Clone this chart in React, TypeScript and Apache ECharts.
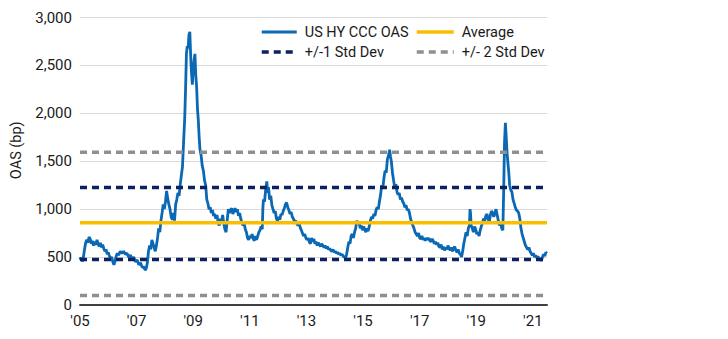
import React, { useEffect, useRef } from "react";
import * as echarts from "echarts";

// Decimal years and US HY CCC OAS (bp)
const years: number[] = [
  2005.00, 2005.03, 2005.06, 2005.09, 2005.12, 2005.16, 2005.20, 2005.24, 2005.28, 2005.32,
  2005.36, 2005.40, 2005.44, 2005.48, 2005.52, 2005.56, 2005.60, 2005.64, 2005.68, 2005.72,
  2005.76, 2005.80, 2005.84, 2005.88, 2005.92, 2005.96, 2006.00, 2006.04, 2006.08, 2006.12,
  2006.16, 2006.20, 2006.24, 2006.28, 2006.32, 2006.36, 2006.42, 2006.48, 2006.54, 2006.60,
  2006.66, 2006.72, 2006.78, 2006.84, 2006.90, 2006.96, 2007.02, 2007.08, 2007.14, 2007.20,
  2007.25, 2007.30, 2007.34, 2007.38, 2007.42, 2007.46, 2007.50, 2007.54, 2007.58, 2007.62,
  2007.66, 2007.70, 2007.74, 2007.78, 2007.82, 2007.86, 2007.90, 2007.94, 2007.98, 2008.02,
  2008.06, 2008.10, 2008.14, 2008.18, 2008.22, 2008.26, 2008.30, 2008.34, 2008.38, 2008.42,
  2008.46, 2008.50, 2008.54, 2008.58, 2008.62, 2008.66, 2008.70, 2008.73, 2008.76, 2008.79,
  2008.82, 2008.85, 2008.88, 2008.91, 2008.94, 2008.97, 2009.00, 2009.03, 2009.06, 2009.09,
  2009.12, 2009.15, 2009.18, 2009.21, 2009.24, 2009.28, 2009.32, 2009.36, 2009.40, 2009.44,
  2009.48, 2009.52, 2009.56, 2009.60, 2009.64, 2009.68, 2009.72, 2009.76, 2009.80, 2009.84,
  2009.88, 2009.92, 2009.96, 2010.00, 2010.04, 2010.08, 2010.12, 2010.16, 2010.20, 2010.24,
  2010.28, 2010.32, 2010.36, 2010.40, 2010.44, 2010.48, 2010.52, 2010.56, 2010.60, 2010.64,
  2010.68, 2010.72, 2010.76, 2010.80, 2010.84, 2010.88, 2010.92, 2010.96, 2011.00, 2011.04,
  2011.08, 2011.12, 2011.16, 2011.20, 2011.24, 2011.28, 2011.32, 2011.36, 2011.40, 2011.44,
  2011.46, 2011.48, 2011.52, 2011.56, 2011.60, 2011.63, 2011.66, 2011.70, 2011.74, 2011.78,
  2011.82, 2011.86, 2011.90, 2011.94, 2011.98, 2012.02, 2012.06, 2012.10, 2012.14, 2012.18,
  2012.22, 2012.26, 2012.30, 2012.34, 2012.38, 2012.42, 2012.46, 2012.50, 2012.54, 2012.58,
  2012.62, 2012.66, 2012.70, 2012.74, 2012.78, 2012.82, 2012.86, 2012.90, 2012.94, 2012.98,
  2013.02, 2013.06, 2013.10, 2013.14, 2013.18, 2013.22, 2013.26, 2013.30, 2013.34, 2013.38,
  2013.42, 2013.46, 2013.50, 2013.54, 2013.58, 2013.62, 2013.66, 2013.70, 2013.74, 2013.78,
  2013.82, 2013.86, 2013.90, 2013.94, 2013.98, 2014.02, 2014.06, 2014.10, 2014.14, 2014.18,
  2014.22, 2014.26, 2014.30, 2014.34, 2014.38, 2014.42, 2014.46, 2014.50, 2014.54, 2014.58,
  2014.62, 2014.66, 2014.70, 2014.74, 2014.78, 2014.82, 2014.86, 2014.90, 2014.94, 2014.98,
  2015.02, 2015.06, 2015.10, 2015.14, 2015.18, 2015.22, 2015.26, 2015.30, 2015.34, 2015.38,
  2015.42, 2015.46, 2015.50, 2015.54, 2015.58, 2015.62, 2015.66, 2015.70, 2015.74, 2015.78,
  2015.82, 2015.86, 2015.90, 2015.94, 2015.97, 2016.00, 2016.04, 2016.08, 2016.12, 2016.16,
  2016.20, 2016.24, 2016.28, 2016.32, 2016.36, 2016.40, 2016.44, 2016.48, 2016.52, 2016.56,
  2016.60, 2016.64, 2016.68, 2016.72, 2016.76, 2016.80, 2016.84, 2016.88, 2016.92, 2016.96,
  2017.00, 2017.04, 2017.08, 2017.12, 2017.16, 2017.20, 2017.24, 2017.28, 2017.32, 2017.36,
  2017.40, 2017.44, 2017.48, 2017.52, 2017.56, 2017.60, 2017.64, 2017.68, 2017.72, 2017.76,
  2017.80, 2017.84, 2017.88, 2017.92, 2017.96, 2018.00, 2018.04, 2018.08, 2018.12, 2018.16,
  2018.20, 2018.24, 2018.28, 2018.32, 2018.36, 2018.40, 2018.44, 2018.48, 2018.52, 2018.56,
  2018.60, 2018.64, 2018.68, 2018.72, 2018.76, 2018.78, 2018.80, 2018.82, 2018.86, 2018.90,
  2018.94, 2018.98, 2019.02, 2019.06, 2019.10, 2019.14, 2019.18, 2019.22, 2019.26, 2019.30,
  2019.34, 2019.38, 2019.42, 2019.46, 2019.50, 2019.54, 2019.58, 2019.62, 2019.66, 2019.70,
  2019.74, 2019.78, 2019.82, 2019.86, 2019.90, 2019.94, 2019.97, 2020.00, 2020.03, 2020.06,
  2020.09, 2020.12, 2020.15, 2020.18, 2020.22, 2020.26, 2020.30, 2020.34, 2020.38, 2020.42,
  2020.46, 2020.50, 2020.54, 2020.58, 2020.62, 2020.66, 2020.70, 2020.74, 2020.78, 2020.82,
  2020.86, 2020.90, 2020.94, 2020.98, 2021.02, 2021.06, 2021.10, 2021.14, 2021.18, 2021.22,
  2021.26, 2021.30, 2021.34, 2021.38, 2021.42, 2021.46, 2021.50,
];

const oas: number[] = [
  500, 470, 490, 455, 500, 580, 650, 680, 650, 710,
  690, 640, 670, 620, 660, 630, 680, 640, 610, 650,
  600, 630, 590, 560, 580, 530, 550, 510, 490, 500,
  450, 420, 460, 510, 540, 520, 560, 540, 560, 530,
  540, 500, 520, 480, 500, 450, 470, 420, 440, 390,
  400, 365, 380, 440, 560, 620, 580, 680, 640, 600,
  560, 620, 700, 800, 760, 880, 960, 1050, 1000, 1080,
  1190, 1110, 1050, 1000, 920, 890, 960, 880, 1050, 1100,
  1170, 1140, 1250, 1350, 1440, 1700, 1950, 2250, 2620, 2700,
  2680, 2820, 2850, 2600, 2420, 2300, 2450, 2550, 2620, 2400,
  2280, 2050, 1930, 1750, 1620, 1560, 1450, 1400, 1300, 1250,
  1100, 1060, 1000, 1020, 960, 990, 930, 950, 900, 940,
  860, 830, 900, 870, 940, 850, 790, 760, 880, 1000,
  960, 990, 1010, 950, 980, 1010, 970, 1000, 930, 960,
  900, 860, 830, 850, 790, 760, 700, 680, 720, 700,
  740, 690, 670, 720, 680, 720, 760, 780, 820, 790,
  1000, 1100, 1080, 1200, 1290, 1170, 1230, 1100, 1140, 1040,
  1000, 960, 980, 900, 880, 920, 890, 950, 940, 980,
  1010, 1050, 1070, 1020, 990, 950, 970, 920, 900, 870,
  880, 850, 830, 850, 810, 780, 750, 720, 740, 700,
  680, 700, 660, 640, 700, 660, 690, 640, 660, 620,
  650, 630, 610, 640, 620, 600, 620, 590, 610, 580,
  590, 570, 560, 580, 550, 560, 540, 550, 530, 540,
  520, 530, 510, 500, 490, 530, 600, 660, 640, 720,
  740, 700, 760, 800, 880, 850, 870, 800, 830, 780,
  820, 790, 760, 800, 770, 820, 880, 920, 900, 950,
  930, 990, 1020, 1000, 1080, 1150, 1250, 1220, 1330, 1400,
  1380, 1520, 1560, 1620, 1550, 1500, 1380, 1300, 1230, 1260,
  1180, 1150, 1170, 1100, 1120, 1080, 1060, 1020, 1040, 990,
  1000, 960, 900, 860, 830, 800, 760, 740, 720, 750,
  700, 690, 720, 680, 700, 670, 700, 680, 700, 670,
  660, 690, 670, 640, 660, 630, 650, 610, 600, 630,
  580, 610, 570, 600, 580, 620, 590, 570, 600, 560,
  590, 610, 570, 550, 580, 540, 530, 500, 560, 640,
  700, 760, 720, 800, 830, 1000, 950, 830, 800, 760,
  820, 790, 740, 760, 720, 780, 820, 860, 900, 880,
  930, 950, 900, 860, 940, 980, 960, 920, 960, 1000,
  940, 880, 830, 860, 800, 780, 1200, 1700, 1900, 1750,
  1580, 1480, 1380, 1250, 1200, 1180, 1100, 1060, 1020, 990,
  980, 960, 900, 800, 740, 700, 660, 620, 600, 580,
  600, 560, 540, 520, 540, 500, 520, 490, 510, 470,
  490, 460, 500, 530, 510, 550, 540,
];

// Reference levels (bp)
const averageLevel = 858;
const stdDev1Levels = [1225, 475];
const stdDev2Levels = [1595, 100];

const startYear = 2005;
const endYear = 2021.5;
const yTicks = [0, 500, 1000, 1500, 2000, 2500, 3000];

const FONT = 'Roboto, "Noto Sans", sans-serif';
const TEXT = "#1a1a1a";

export default function App() {
  const ref = useRef<HTMLDivElement>(null);

  useEffect(() => {
    if (!ref.current) return;
    const chart = echarts.init(ref.current, undefined, { renderer: "svg" });
    const span = endYear - startYear;
    const flat = (v: number) => [
      [0, v],
      [span, v],
    ];
    const refLine = (name: string, v: number, color: string, width: number, dash: any) => ({
      name,
      type: "line",
      data: flat(v),
      symbol: "none",
      silent: true,
      lineStyle: { color, width, type: dash, cap: "butt" },
      itemStyle: { color },
      z: 3,
    });
    const legendBase = {
      orient: "vertical",
      top: 22,
      padding: 0,
      itemWidth: 35,
      itemHeight: 14,
      itemGap: 0,
      itemStyle: { opacity: 0, borderWidth: 0 },
      lineStyle: { width: 3.5 },
      textStyle: { fontFamily: FONT, fontSize: 14.5, color: TEXT, lineHeight: 20, padding: [0, 0, 0, 3] },
    };

    chart.setOption({
      animation: false,
      textStyle: { fontFamily: FONT },
      grid: { left: 80, right: 181, top: 17.5, bottom: 34, containLabel: false },
      legend: [
        {
          ...legendBase,
          left: 260,
          data: [{ name: "US HY CCC OAS", lineStyle: { width: 3 } }, "+/-1 Std Dev"],
        },
        { ...legendBase, left: 415, itemWidth: 37, data: ["Average", "+/- 2 Std Dev"] },
      ],
      xAxis: {
        type: "value",
        min: 0,
        max: span,
        interval: 2,
        axisLine: { show: true, lineStyle: { color: "#404040", width: 2 } },
        axisTick: { show: false },
        splitLine: { show: false },
        axisLabel: {
          fontFamily: FONT,
          fontSize: 15,
          color: TEXT,
          margin: 8,
          showMaxLabel: false,
          formatter: (v: number) => {
            if (Math.abs(v - Math.round(v)) > 1e-6 || Math.round(v) % 2 !== 0) return "";
            const yy = (startYear + Math.round(v)) % 100;
            return "'" + String(yy).padStart(2, "0");
          },
        },
      },
      yAxis: {
        type: "value",
        min: yTicks[0],
        max: yTicks[yTicks.length - 1],
        interval: 500,
        name: "OAS (bp)",
        nameLocation: "middle",
        nameGap: 53,
        nameTextStyle: { fontFamily: FONT, fontSize: 14.5, color: TEXT, padding: [0, 0, 0, 22] },
        axisLine: { show: false },
        axisTick: { show: false },
        splitLine: { show: true, lineStyle: { color: "#d9d9d9", width: 1 } },
        axisLabel: {
          fontFamily: FONT,
          fontSize: 15,
          color: TEXT,
          margin: 8,
          formatter: (v: number) => v.toLocaleString("en-US"),
        },
      },
      series: [
        {
          name: "US HY CCC OAS",
          type: "line",
          data: years.map((y, i) => [y - startYear, oas[i]]),
          symbol: "none",
          lineStyle: { color: "#0a68b4", width: 2.8 },
          itemStyle: { color: "#0a68b4" },
          z: 2,
        },
        refLine("+/-1 Std Dev", stdDev1Levels[0], "#0b2160", 3.5, [7, 5]),
        refLine("+/-1 Std Dev", stdDev1Levels[1], "#0b2160", 3.5, [7, 5]),
        refLine("Average", averageLevel, "#fbbd00", 3.5, "solid"),
        refLine("+/- 2 Std Dev", stdDev2Levels[0], "#8f8f8f", 3.5, [7, 5]),
        refLine("+/- 2 Std Dev", stdDev2Levels[1], "#8f8f8f", 3.5, [7, 5]),
      ],
    });
    return () => chart.dispose();
  }, []);

  return (
    <div
      ref={ref}
      style={{ position: "fixed", left: 0, top: 0, width: 728, height: 339, background: "#ffffff" }}
    />
  );
}
